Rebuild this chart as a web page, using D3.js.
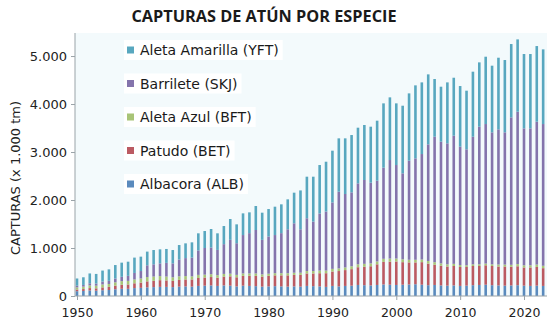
<!DOCTYPE html>
<html><head><meta charset="utf-8">
<script src="https://cdn.jsdelivr.net/npm/d3@7"></script>
<style>
html,body{margin:0;padding:0;background:#fff;}
svg{display:block;font-family:"DejaVu Sans","Open Sans",sans-serif;}
</style></head>
<body><svg id="c" width="551" height="333"></svg>
<script>
const years = d3.range(1950, 2024);
const seriesKeys = ["ALB","BET","BFT","SKJ","YFT"];
const seriesNames = {ALB:"Albacora (ALB)",BET:"Patudo (BET)",BFT:"Aleta Azul (BFT)",SKJ:"Barrilete (SKJ)",YFT:"Aleta Amarilla (YFT)"};
const seriesColors = {ALB:"#5a8abd",BET:"#bb5a62",BFT:"#a8c477",SKJ:"#8474ac",YFT:"#58a7bf"};
const legendOrder = ["YFT","SKJ","BFT","BET","ALB"];
const yTicks = [0,1000,2000,3000,4000,5000];
const xTicks = [1950,1960,1970,1980,1990,2000,2010,2020];

const ALB = [100,105,115,110,120,125,140,150,150,165,170,180,185,190,190,185,195,200,195,210,215,220,210,220,215,200,215,210,205,195,200,205,200,195,200,195,210,205,200,190,210,200,210,215,230,225,220,230,240,235,230,235,240,245,235,225,230,220,215,220,210,215,225,230,235,225,220,215,220,225,215,210,215,210];
const BET = [35,40,50,50,60,65,75,85,90,100,110,125,130,140,135,130,140,145,150,165,170,175,170,185,195,190,205,210,215,210,220,225,230,235,240,245,260,265,275,285,300,320,330,345,370,385,400,430,470,480,490,470,460,455,470,450,420,410,400,405,395,390,400,395,405,400,395,400,390,395,380,385,390,370];
const BFT = [45,50,55,55,60,60,70,75,75,80,85,90,90,85,80,75,75,70,65,65,60,60,55,55,55,50,50,50,50,45,45,45,45,45,45,45,50,50,55,55,55,55,55,60,60,60,60,60,65,65,60,60,55,55,55,55,55,50,45,45,40,35,35,35,35,35,40,40,40,45,45,45,50,50];
const SKJ = [35,35,45,45,60,65,80,90,105,135,155,245,255,265,285,290,350,375,390,510,555,555,525,620,705,660,800,840,905,720,775,795,835,915,1030,905,1100,1030,1190,1230,1385,1598,1530,1540,1687,1747,1681,1683,1899,2053,1949,1791,2064,2113,2198,2430,2614,2535,2521,2670,2466,2416,2659,2868,2908,2750,2817,2755,3072,3175,2853,2853,2977,2953];
const YFT = [150,160,205,200,230,240,280,295,295,320,300,285,298,292,290,278,302,307,318,356,354,386,346,378,434,393,452,433,500,566,572,591,600,624,638,810,866,936,1009,1038,1078,1112,1160,1194,1160,1146,1167,1250,1340,1306,1285,1409,1403,1521,1493,1458,1202,1146,1270,1208,1264,1222,1355,1340,1403,1389,1493,1507,1528,1507,1549,1549,1576,1556];

const seriesData = {ALB,BET,BFT,SKJ,YFT};
const table = years.map((y,i)=>{const r={year:y}; seriesKeys.forEach(k=>r[k]=seriesData[k][i]); return r;});

const svg = d3.select("#c");
const x = d3.scaleLinear().domain([1950,2020]).range([77,524]);
const y = d3.scaleLinear().domain([0,5480]).range([296,33]);

svg.append("rect").attr("x",75).attr("y",33).attr("width",472).attr("height",263).attr("fill","#f3fafc");

// legend backgrounds + text (drawn before bars so bars stay on top)
const lg = svg.append("g");
legendOrder.forEach((k,i)=>{
  const cy = 50 + i*33.5;
  const bg = lg.append("rect").attr("x",124).attr("y",cy-10).attr("height",20).attr("fill","#fff");
  lg.append("rect").attr("x",127).attr("y",cy-3.5).attr("width",7).attr("height",7).attr("fill",seriesColors[k]);
  const t = lg.append("text").attr("x",140).attr("y",cy+5).attr("font-size",14).attr("fill","#1a1a1a").text(seriesNames[k]);
  bg.attr("width", 16 + t.node().getComputedTextLength() + 4);
});

const stack = d3.stack().keys(seriesKeys)(table);
const bw = 2.6;
svg.append("g").selectAll("g").data(stack).join("g")
  .attr("fill",d=>seriesColors[d.key])
  .selectAll("rect").data(d=>d).join("rect")
  .attr("x",d=>x(d.data.year)-bw/2)
  .attr("width",bw)
  .attr("y",d=>y(d[1]))
  .attr("height",d=>y(d[0])-y(d[1]));

const gy = svg.append("g").attr("transform","translate(75,0)")
  .call(d3.axisLeft(y).tickValues(yTicks).tickSize(4).tickPadding(4)
    .tickFormat(d=>d3.format(",")(d).replace(/,/g,".")));
gy.select(".domain").attr("stroke","#9aa3a8").attr("d","M0,33V296");
gy.selectAll(".tick line").attr("stroke","#9aa3a8");
gy.selectAll("text").attr("font-size",13).attr("fill","#222").attr("font-family","DejaVu Sans");

const gx = svg.append("g").attr("transform","translate(0,296)")
  .call(d3.axisBottom(x).tickValues(xTicks).tickSize(4).tickPadding(8).tickFormat(d3.format("d")));
gx.select(".domain").attr("stroke","#9aa3a8").attr("d","M75,0H547");
gx.selectAll(".tick line").attr("stroke","#9aa3a8");
gx.selectAll("text").attr("font-size",12.5).attr("fill","#222").attr("font-family","DejaVu Sans");

svg.append("text").attr("x",264).attr("y",22).attr("text-anchor","middle")
  .attr("font-family","Open Sans").attr("font-size",16.3).attr("font-weight",700).attr("fill","#1a1a1a")
  .text("CAPTURAS DE ATÚN POR ESPECIE");

svg.append("text").attr("transform","translate(20,178) rotate(-90)")
  .attr("text-anchor","middle").attr("font-size",13).attr("fill","#222")
  .text("CAPTURAS (x 1.000 tm)");
</script></body></html>
